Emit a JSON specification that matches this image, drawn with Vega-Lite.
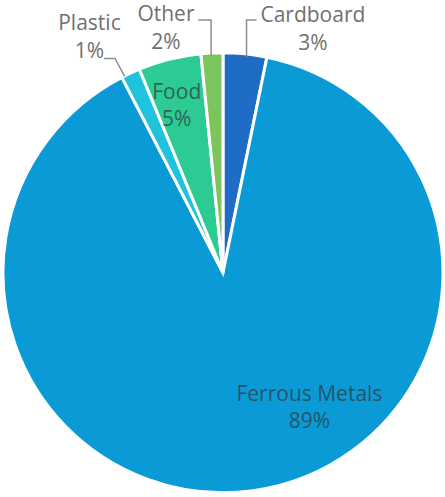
{
  "$schema": "https://vega.github.io/schema/vega-lite/v6.json",
  "width": 445,
  "height": 497,
  "padding": 0,
  "autosize": {"type": "fit", "contains": "padding"},
  "background": "white",
  "config": {"view": {"stroke": null}},
  "datasets": {
    "slices": [
      {"idx": 1, "category": "Cardboard", "value": 3.2},
      {"idx": 2, "category": "Ferrous Metals", "value": 89.2},
      {"idx": 3, "category": "Plastic", "value": 1.4},
      {"idx": 4, "category": "Food", "value": 4.6},
      {"idx": 5, "category": "Other", "value": 1.6}
    ],
    "labels": [
      {"category": "Cardboard", "label": "Cardboard\n3%", "x": 0.416, "y": 1.18, "placement": "outside"},
      {"category": "Other", "label": "Other\n2%", "x": -0.264, "y": 1.184, "placement": "outside"},
      {"category": "Plastic", "label": "Plastic\n1%", "x": -0.618, "y": 1.14, "placement": "outside"},
      {"category": "Food", "label": "Food\n5%", "x": -0.214, "y": 0.825, "placement": "inside"},
      {"category": "Ferrous Metals", "label": "Ferrous Metals\n89%", "x": 0.4, "y": -0.561, "placement": "inside"}
    ],
    "leaders": [
      {"lid": "Cardboard", "ord": 1, "x": 0.155, "y": 1.161},
      {"lid": "Cardboard", "ord": 2, "x": 0.109, "y": 1.161},
      {"lid": "Cardboard", "ord": 3, "x": 0.109, "y": 0.989},
      {"lid": "Other", "ord": 1, "x": -0.114, "y": 1.161},
      {"lid": "Other", "ord": 2, "x": -0.055, "y": 1.161},
      {"lid": "Other", "ord": 3, "x": -0.055, "y": 0.998},
      {"lid": "Plastic", "ord": 1, "x": -0.55, "y": 0.984},
      {"lid": "Plastic", "ord": 2, "x": -0.5, "y": 0.984},
      {"lid": "Plastic", "ord": 3, "x": -0.455, "y": 0.902}
    ]
  },
  "layer": [
    {
      "data": {"name": "slices"},
      "mark": {"type": "arc", "outerRadius": 220, "stroke": "white", "strokeWidth": 3},
      "encoding": {
        "theta": {"field": "value", "type": "quantitative", "stack": true},
        "order": {"field": "idx", "type": "quantitative"},
        "color": {
          "field": "category",
          "type": "nominal",
          "scale": {
            "domain": ["Cardboard", "Ferrous Metals", "Plastic", "Food", "Other"],
            "range": ["#1f6cc6", "#0a9bd7", "#1fc3dc", "#2ccb94", "#7cc45c"]
          },
          "legend": null
        },
        "x": {"datum": 0, "type": "quantitative", "scale": {"domain": [-1.0136, 1.0091], "zero": false, "nice": false}, "axis": null},
        "y": {"datum": 0, "type": "quantitative", "scale": {"domain": [-1.0068, 1.2523], "zero": false, "nice": false}, "axis": null}
      }
    },
    {
      "data": {"name": "leaders"},
      "mark": {"type": "line", "color": "#8f8f8f", "strokeWidth": 1.5},
      "encoding": {
        "x": {"field": "x", "type": "quantitative", "scale": {"domain": [-1.0136, 1.0091], "zero": false, "nice": false}, "axis": null},
        "y": {"field": "y", "type": "quantitative", "scale": {"domain": [-1.0068, 1.2523], "zero": false, "nice": false}, "axis": null},
        "detail": {"field": "lid", "type": "nominal"},
        "order": {"field": "ord", "type": "quantitative"}
      }
    },
    {
      "data": {"name": "labels"},
      "transform": [{"filter": "datum.placement == 'outside'"}],
      "mark": {"type": "text", "lineBreak": "\n", "lineHeight": 28, "font": "Open Sans", "fontSize": 21, "fill": "#707070", "align": "center", "baseline": "middle"},
      "encoding": {
        "x": {"field": "x", "type": "quantitative", "scale": {"domain": [-1.0136, 1.0091], "zero": false, "nice": false}, "axis": null},
        "y": {"field": "y", "type": "quantitative", "scale": {"domain": [-1.0068, 1.2523], "zero": false, "nice": false}, "axis": null},
        "text": {"field": "label", "type": "nominal"}
      }
    },
    {
      "data": {"name": "labels"},
      "transform": [{"filter": "datum.placement == 'inside'"}],
      "mark": {"type": "text", "lineBreak": "\n", "lineHeight": 27, "font": "Open Sans", "fontSize": 21, "fill": "#333333", "fillOpacity": 0.7, "align": "center", "baseline": "middle"},
      "encoding": {
        "x": {"field": "x", "type": "quantitative", "scale": {"domain": [-1.0136, 1.0091], "zero": false, "nice": false}, "axis": null},
        "y": {"field": "y", "type": "quantitative", "scale": {"domain": [-1.0068, 1.2523], "zero": false, "nice": false}, "axis": null},
        "text": {"field": "label", "type": "nominal"}
      }
    }
  ]
}
